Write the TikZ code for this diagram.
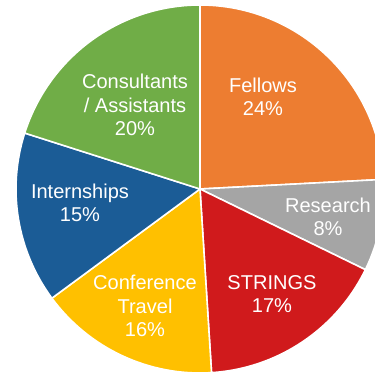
\documentclass[tikz,border=0pt]{standalone}
\usepackage{fontspec}
\setmainfont{Liberation Sans}
\usepackage{tikz}
\definecolor{fellowsorange}{HTML}{ED7D31}
\definecolor{researchgray}{HTML}{A5A5A5}
\definecolor{stringsred}{HTML}{D01A1C}
\definecolor{travelyellow}{HTML}{FFC000}
\definecolor{internblue}{HTML}{1B5C96}
\definecolor{consultgreen}{HTML}{70AD47}
\newcommand{\slice}[3]{ \filldraw[fill=#3, draw=white, line width=0.9pt, line join=round] (0,0) -- (#1:3.68) arc (#1:#2:3.68) -- cycle;}
\tikzset{lbl/.style={text=white, align=center, inner sep=0pt, font=\fontsize{11.4}{13.4}\selectfont}}

\begin{document}
\begin{tikzpicture}
    \useasboundingbox (-4,-3.72) rectangle (3.5,3.78);
    % slices
    \slice{90}{3}{fellowsorange}
    \slice{3}{-26}{researchgray}
    \slice{-26}{-86.4}{stringsred}
    \slice{-86.4}{-143.6}{travelyellow}
    \slice{-143.6}{-197.7}{internblue}
    \slice{162.3}{90}{consultgreen}
    % labels
    \node[lbl] (fellows) at (1.26,1.84) {Fellows\\24\%};
    \node[lbl] (research) at (2.56,-0.56) {Research\\8\%};
    \node[lbl] (strings) at (1.44,-2.1) {STRINGS\\17\%};
    \node[lbl] (travel) at (-1.1,-2.34) {Conference\\Travel\\16\%};
    \node[lbl] (interns) at (-2.4,-0.28) {Internships\\15\%};
    \node[lbl] (consult) at (-1.3,1.68) {Consultants\\/ Assistants\\20\%};
\end{tikzpicture}
\end{document}
